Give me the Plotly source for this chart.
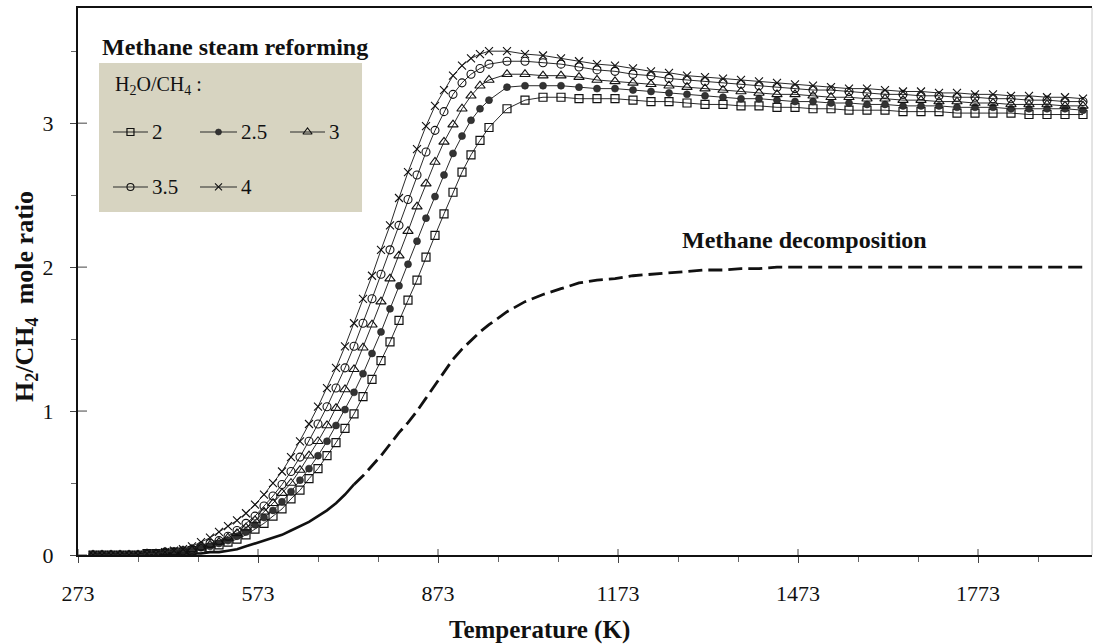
import plotly.graph_objects as go

# Temperature grid (K): 15 K steps up to 958 K, then 30 K steps
temperature_k = [
    298, 313, 328, 343, 358, 373, 388, 403, 418, 433,
    448, 463, 478, 493, 508, 523, 538, 553, 568, 583,
    598, 613, 628, 643, 658, 673, 688, 703, 718, 733,
    748, 763, 778, 793, 808, 823, 838, 853, 868, 883,
    898, 913, 928, 943, 958,
    988, 1018, 1048, 1078, 1108, 1138, 1168, 1198, 1228, 1258,
    1288, 1318, 1348, 1378, 1408, 1438, 1468, 1498, 1528, 1558,
    1588, 1618, 1648, 1678, 1708, 1738, 1768, 1798, 1828, 1858,
    1888, 1918, 1948,
]

# H2/CH4 mole ratio for methane steam reforming, per H2O/CH4 feed ratio
ratio_2 = [
    0.00, 0.00, 0.00, 0.00, 0.00, 0.00, 0.01, 0.01, 0.01, 0.02,
    0.02, 0.03, 0.04, 0.05, 0.07, 0.09, 0.11, 0.14, 0.18, 0.22,
    0.27, 0.32, 0.39, 0.45, 0.53, 0.60, 0.69, 0.78, 0.88, 0.98,
    1.10, 1.22, 1.35, 1.48, 1.63, 1.77, 1.91, 2.07, 2.22, 2.37,
    2.52, 2.66, 2.78, 2.88, 2.97,
    3.10, 3.16, 3.18, 3.18, 3.17, 3.17, 3.17, 3.16, 3.15, 3.15,
    3.14, 3.13, 3.13, 3.12, 3.12, 3.11, 3.11, 3.10, 3.10, 3.09,
    3.09, 3.09, 3.08, 3.08, 3.08, 3.07, 3.07, 3.07, 3.07, 3.06,
    3.06, 3.06, 3.06,
]
ratio_2_5 = [
    0.00, 0.00, 0.00, 0.00, 0.00, 0.00, 0.01, 0.01, 0.01, 0.02,
    0.02, 0.03, 0.05, 0.06, 0.08, 0.10, 0.13, 0.16, 0.21, 0.26,
    0.31, 0.37, 0.44, 0.52, 0.60, 0.69, 0.79, 0.90, 1.01, 1.13,
    1.26, 1.40, 1.55, 1.71, 1.87, 2.02, 2.18, 2.34, 2.49, 2.64,
    2.79, 2.91, 3.02, 3.10, 3.16,
    3.25, 3.26, 3.26, 3.26, 3.25, 3.24, 3.24, 3.23, 3.22, 3.21,
    3.20, 3.19, 3.18, 3.17, 3.17, 3.16, 3.15, 3.15, 3.14, 3.14,
    3.13, 3.13, 3.12, 3.12, 3.12, 3.11, 3.11, 3.11, 3.10, 3.10,
    3.10, 3.10, 3.09,
]
ratio_3 = [
    0.00, 0.00, 0.00, 0.00, 0.00, 0.00, 0.01, 0.01, 0.02, 0.02,
    0.03, 0.04, 0.05, 0.07, 0.09, 0.12, 0.15, 0.19, 0.24, 0.30,
    0.36, 0.43, 0.50, 0.59, 0.69, 0.79, 0.90, 1.02, 1.15, 1.29,
    1.44, 1.60, 1.76, 1.92, 2.08, 2.25, 2.42, 2.58, 2.73, 2.87,
    2.99, 3.10, 3.19, 3.26, 3.30,
    3.34, 3.34, 3.33, 3.33, 3.32, 3.30, 3.29, 3.28, 3.27, 3.26,
    3.25, 3.24, 3.23, 3.22, 3.21, 3.20, 3.20, 3.19, 3.18, 3.18,
    3.17, 3.17, 3.16, 3.16, 3.15, 3.15, 3.14, 3.14, 3.13, 3.13,
    3.13, 3.12, 3.12,
]
ratio_3_5 = [
    0.00, 0.00, 0.00, 0.00, 0.00, 0.00, 0.01, 0.01, 0.02, 0.02,
    0.03, 0.04, 0.06, 0.08, 0.10, 0.13, 0.17, 0.22, 0.27, 0.34,
    0.41, 0.49, 0.58, 0.68, 0.79, 0.91, 1.03, 1.16, 1.30, 1.45,
    1.61, 1.78, 1.95, 2.12, 2.29, 2.47, 2.64, 2.80, 2.95, 3.08,
    3.20, 3.28, 3.34, 3.38, 3.41,
    3.43, 3.43, 3.42, 3.41, 3.39, 3.37, 3.36, 3.34, 3.33, 3.31,
    3.30, 3.29, 3.28, 3.27, 3.26, 3.25, 3.24, 3.23, 3.23, 3.22,
    3.21, 3.20, 3.20, 3.19, 3.19, 3.18, 3.18, 3.17, 3.17, 3.16,
    3.16, 3.15, 3.15,
]
ratio_4 = [
    0.00, 0.00, 0.00, 0.00, 0.00, 0.00, 0.01, 0.01, 0.02, 0.03,
    0.04, 0.06, 0.09, 0.12, 0.16, 0.20, 0.24, 0.29, 0.35, 0.42,
    0.50, 0.58, 0.68, 0.79, 0.91, 1.03, 1.16, 1.30, 1.45, 1.61,
    1.78, 1.94, 2.12, 2.29, 2.48, 2.66, 2.82, 2.98, 3.12, 3.23,
    3.33, 3.40, 3.45, 3.48, 3.50,
    3.50, 3.48, 3.47, 3.45, 3.43, 3.41, 3.40, 3.38, 3.36, 3.35,
    3.33, 3.32, 3.31, 3.30, 3.29, 3.28, 3.27, 3.26, 3.25, 3.24,
    3.24, 3.23, 3.22, 3.22, 3.21, 3.21, 3.20, 3.20, 3.19, 3.19,
    3.18, 3.18, 3.17,
]

# H2/CH4 mole ratio for methane decomposition
decomposition = [
    0.00, 0.00, 0.00, 0.00, 0.00, 0.00, 0.00, 0.00, 0.00, 0.00,
    0.01, 0.01, 0.01, 0.02, 0.02, 0.03, 0.04, 0.06, 0.08, 0.10,
    0.12, 0.14, 0.17, 0.20, 0.23, 0.27, 0.31, 0.36, 0.42, 0.49,
    0.55, 0.62, 0.69, 0.77, 0.85, 0.92, 1.00, 1.09, 1.18, 1.27,
    1.36, 1.43, 1.49, 1.55, 1.60,
    1.69, 1.76, 1.81, 1.85, 1.89, 1.91, 1.92, 1.94, 1.95, 1.96,
    1.97, 1.98, 1.98, 1.99, 1.99, 2.00, 2.00, 2.00, 2.00, 2.00,
    2.00, 2.00, 2.00, 2.00, 2.00, 2.00, 2.00, 2.00, 2.00, 2.00,
    2.00, 2.00, 2.00,
]
# the decomposition curve is drawn solid up to this temperature, dashed above
solid_until_k = 733

feed_ratio_labels = ["2", "2.5", "3", "3.5", "4"]
x_tick_values = [273, 573, 873, 1173, 1473, 1773]
y_tick_values = [0, 1, 2, 3]

FONT = "Liberation Serif"
INK = "#111111"
LINE = "#2a2a2a"
TICK = "#444444"
X_RANGE = [273, 1963]
Y_RANGE = [0, 3.8]
PLOT_W, PLOT_H = 1014, 547  # plot-area size in px, for tick lengths

marker_styles = {
    "2": dict(symbol="square-open", size=8, color=INK, line=dict(width=1.2, color=INK)),
    "2.5": dict(symbol="circle", size=7, color="#333333", line=dict(width=0.6, color="#222222")),
    "3": dict(symbol="triangle-up-open", size=9, color=INK, line=dict(width=1.1, color=INK)),
    "3.5": dict(symbol="circle-open", size=8, color=INK, line=dict(width=1.1, color=INK)),
    "4": dict(symbol="x-thin-open", size=8, color=INK, line=dict(width=1.1, color=INK)),
}
series_values = [ratio_2, ratio_2_5, ratio_3, ratio_3_5, ratio_4]

fig = go.Figure()

# methane decomposition: solid low-temperature part, dashed remainder
split = temperature_k.index(solid_until_k)
fig.add_trace(go.Scatter(
    x=temperature_k[:split + 1], y=decomposition[:split + 1], mode="lines",
    line=dict(color=INK, width=2.6), showlegend=False, hoverinfo="skip",
))
fig.add_trace(go.Scatter(
    x=temperature_k[split:], y=decomposition[split:], mode="lines",
    line=dict(color=INK, width=2.8, dash="14px,6px"), showlegend=False,
    name="Methane decomposition",
))

# steam reforming curves
for label, values in zip(feed_ratio_labels, series_values):
    fig.add_trace(go.Scatter(
        x=temperature_k, y=values, mode="lines+markers", name=label,
        line=dict(color=LINE, width=1), marker=marker_styles[label],
        showlegend=False,
    ))

# legend box contents: a hidden unit-square axis pair spanning the plot area
LEG_ROWS = [0.7733, 0.6728]
LEG_COLS = [(0.0345, 0.0690), (0.1203, 0.1568), (0.2091, 0.2436)]
legend_slots = [(0, 0), (0, 1), (0, 2), (1, 0), (1, 1)]
annotations = []
for label, (r, c) in zip(feed_ratio_labels, legend_slots):
    x0, x1 = LEG_COLS[c]
    yy = LEG_ROWS[r]
    fig.add_trace(go.Scatter(
        x=[x0, x1], y=[yy, yy], mode="lines", xaxis="x2", yaxis="y2",
        line=dict(color=LINE, width=1.2), showlegend=False, hoverinfo="skip",
    ))
    sample = dict(marker_styles[label])
    sample["size"] = sample["size"] - 1
    fig.add_trace(go.Scatter(
        x=[(x0 + x1) / 2], y=[yy], mode="markers", xaxis="x2", yaxis="y2",
        marker=sample, showlegend=False, hoverinfo="skip",
    ))
    annotations.append(dict(
        x=x1 + 0.002, y=yy, xref="paper", yref="paper", text=label,
        showarrow=False, xanchor="left", yanchor="middle",
        font=dict(family=FONT, size=21, color=INK),
    ))

annotations += [
    dict(x=0.1553, y=0.9287, xref="paper", yref="paper",
         text="<b>Methane steam reforming</b>", showarrow=False,
         xanchor="center", yanchor="middle",
         font=dict(family=FONT, size=24, color=INK)),
    dict(x=0.0345, y=0.8592, xref="paper", yref="paper",
         text="H<sub>2</sub>O/CH<sub>4</sub> :", showarrow=False,
         xanchor="left", yanchor="middle",
         font=dict(family=FONT, size=20, color=INK)),
    dict(x=0.7160, y=0.5759, xref="paper", yref="paper",
         text="<b>Methane decomposition</b>", showarrow=False,
         xanchor="center", yanchor="middle",
         font=dict(family=FONT, size=24, color=INK)),
    dict(x=0.4556, y=-0.1371, xref="paper", yref="paper",
         text="<b>Temperature (K)</b>", showarrow=False,
         xanchor="center", yanchor="middle",
         font=dict(family=FONT, size=25, color=INK)),
    dict(x=-0.0513, y=0.4735, xref="paper", yref="paper",
         text="<b>H<sub>2</sub>/CH<sub>4</sub>\u00a0\u00a0mole ratio</b>",
         showarrow=False, textangle=-90, xanchor="center", yanchor="middle",
         font=dict(family=FONT, size=26, color=INK)),
]

shapes = [
    # legend background
    dict(type="rect", xref="paper", yref="paper", x0=0.0207, x1=0.2801,
         y0=0.6271, y1=0.8995, fillcolor="#d7d4c1", line=dict(width=0),
         layer="below"),
    # faint right frame edge
    dict(type="line", xref="paper", yref="paper", x0=1, x1=1, y0=0, y1=1,
         line=dict(color="#c8c8c8", width=1)),
]
# inner halves of the major ticks, so they cross the axis lines
for xv in x_tick_values:
    shapes.append(dict(type="line", xref="x", yref="paper", x0=xv, x1=xv,
                       y0=0, y1=6 / PLOT_H, line=dict(color=TICK, width=1)))
for yv in y_tick_values:
    shapes.append(dict(type="line", xref="paper", yref="y", x0=0, x1=9 / PLOT_W,
                       y0=yv, y1=yv, line=dict(color=TICK, width=1)))

axis_common = dict(showgrid=False, zeroline=False)
fig.update_layout(
    width=1094, height=644,
    margin=dict(l=78, r=2, t=8, b=89),
    paper_bgcolor="white", plot_bgcolor="white",
    showlegend=False,
    font=dict(family=FONT, color=INK, size=22),
    xaxis=dict(
        range=X_RANGE, tickmode="array", tickvals=x_tick_values,
        ticks="outside", ticklen=6, tickwidth=1, tickcolor=TICK,
        showline=True, linecolor=INK, linewidth=2, mirror=True,
        tickfont=dict(family=FONT, size=22, color=INK), ticklabelstandoff=12,
        minor=dict(tick0=273, dtick=100, ticks="outside", ticklen=5,
                   tickcolor="#666666", tickwidth=1),
        **axis_common,
    ),
    yaxis=dict(
        range=Y_RANGE, tickmode="array", tickvals=y_tick_values,
        ticks="outside", ticklen=6, tickwidth=1, tickcolor=TICK,
        showline=True, linecolor=INK, linewidth=2,
        tickfont=dict(family=FONT, size=22, color=INK), ticklabelstandoff=12,
        minor=dict(tick0=0, dtick=0.5, ticks="outside", ticklen=5,
                   tickcolor="#666666", tickwidth=1),
        **axis_common,
    ),
    xaxis2=dict(overlaying="x", range=[0, 1], visible=False, anchor="y2"),
    yaxis2=dict(overlaying="y", range=[0, 1], visible=False, anchor="x2"),
    annotations=annotations,
    shapes=shapes,
)

fig.write_html("out.html")
